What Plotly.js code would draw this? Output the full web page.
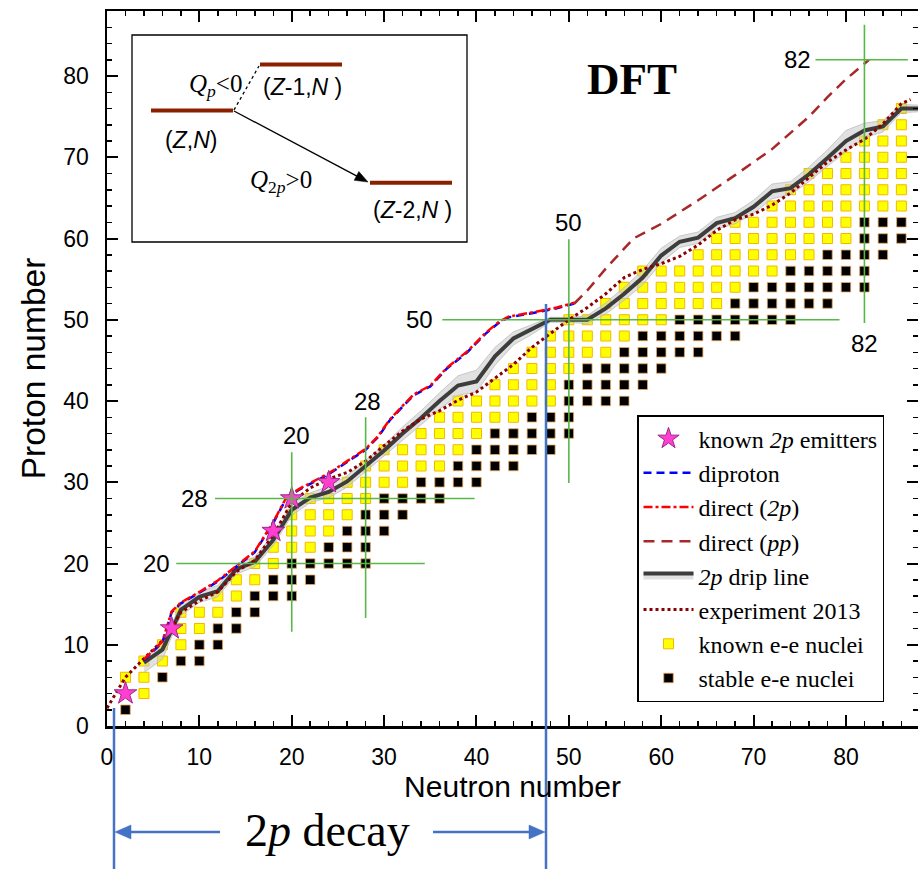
<!DOCTYPE html>
<html>
<head>
<meta charset="utf-8">
<script src="https://cdn.plot.ly/plotly-3.0.1.min.js"></script>
<style>
  html, body { margin: 0; padding: 0; background: #fff; }
  #chart { width: 918px; height: 869px; }
</style>
</head>
<body>
<div id="chart"></div>
<script>
// ---- even-even nuclei, row by row: proton number Z -> neutron numbers N ----
const rowZ = [2, 4, 6, 8, 10, 12, 14, 16, 18, 20, 22, 24, 26, 28, 30, 32, 34, 36, 38,
              40, 42, 44, 46, 48, 50, 52, 54, 56, 58, 60, 62, 64, 66, 68, 70, 72, 74, 76];
const knownN = [
  [], [4], [2, 4], [4, 6], [6, 8], [8, 10], [8, 10, 12], [12, 14], [14, 16], [16, 18],
  [18, 20, 22], [20, 22, 24], [20, 22, 24, 26], [22, 24, 26, 28], [26, 28, 30, 32],
  [28, 30, 32, 34, 36], [30, 32, 34, 36, 38], [34, 36, 38, 40], [36, 38, 40, 42, 44],
  [38, 40, 42, 44, 46, 48], [42, 44, 46, 48], [44, 46, 48, 50], [46, 48, 50, 52, 54],
  [48, 50, 52, 54, 56], [50, 52, 54, 56, 58, 60], [54, 56, 58, 60, 62, 64, 66],
  [56, 58, 60, 62, 64, 66, 68], [58, 60, 62, 64, 66, 68, 70, 72], [64, 66, 68, 70, 72, 74, 76],
  [66, 68, 70, 72, 74, 76, 78, 80], [68, 70, 72, 74, 76, 78, 80],
  [72, 74, 76, 78, 80, 82, 84, 86], [74, 76, 78, 80, 82, 84, 86], [76, 78, 80, 82, 84, 86],
  [80, 82, 84, 86], [82, 84, 86], [84, 86], [86]
];
const stableN = [
  [2], [], [6], [8, 10], [10, 12], [12, 14], [14, 16], [16, 18, 20], [18, 20, 22],
  [20, 22, 24, 26, 28], [24, 26, 28], [26, 28, 30], [28, 30, 32], [30, 32, 34, 36],
  [34, 36, 38, 40], [38, 40, 42, 44], [40, 42, 44, 46, 48], [42, 44, 46, 48, 50],
  [46, 48, 50], [50, 52, 54, 56], [50, 52, 54, 56, 58], [52, 54, 56, 58, 60],
  [56, 58, 60, 62, 64], [58, 60, 62, 64, 66, 68], [62, 64, 66, 68, 70, 72, 74],
  [68, 70, 72, 74, 76, 78], [70, 72, 74, 76, 78, 80, 82], [74, 76, 78, 80, 82],
  [78, 80, 82, 84], [82, 84, 86], [82, 84, 86], [], [], [], [], [], [], []
];

// ---- known two-proton emitters ----
const emitterN = [2, 7, 18, 20, 24];
const emitterZ = [4, 12, 24, 28, 30];

// ---- predicted boundaries ----
const diprotonN = [4, 6, 7, 8, 10, 12, 14, 16, 18, 19.5, 21, 24, 26, 28, 29.3, 30.6, 32, 33.2, 35, 36.8, 39, 41, 42.5, 43.5, 46, 48.7, 50.6];
const diprotonZ = [8.1, 10.3, 14.0, 15.1, 16.4, 17.8, 19.6, 21.4, 25.0, 28.2, 29.2, 31.0, 32.5, 34.0, 35.5, 37.6, 39.3, 40.7, 41.8, 44.0, 46.0, 48.3, 49.7, 50.3, 50.8, 51.4, 52.0];
const direct2pN = [4, 6, 7, 8, 10, 12, 14, 16, 18, 19.5, 21, 24, 26, 28, 29.3, 30.6, 32, 33.2, 35, 36.8, 39, 41, 42.5, 43.5, 46, 48.7, 50.6];
const direct2pZ = [8.2, 10.4, 14.1, 15.2, 16.5, 17.9, 19.7, 21.5, 25.1, 28.3, 29.3, 31.1, 32.6, 34.1, 35.6, 37.7, 39.4, 40.8, 41.9, 44.1, 46.1, 48.4, 49.8, 50.4, 50.9, 51.5, 52.1];
const directPPN = [50.6, 52, 54, 57, 60, 64, 68, 72, 76, 78, 80, 82.5];
const directPPZ = [52.0, 53.6, 56.3, 60.0, 61.8, 64.7, 67.8, 71.0, 75.0, 77.4, 79.6, 82.0];

const dripN = [4, 6, 7, 8, 10, 12, 14, 16, 18, 20, 22, 24, 26, 28, 30, 32, 34, 36, 38, 40, 42, 44,
               46, 48, 50, 52, 54, 56, 58, 60, 62, 64, 66, 68, 70, 72, 74, 76, 78, 80, 82, 84, 86, 88];
const dripZ = [7.8, 9.4, 11.8, 14.3, 15.9, 16.6, 19.3, 20.2, 22.9, 26.6, 28.1, 28.8, 30.1, 32.0, 33.9,
               36.0, 37.9, 40.0, 41.9, 42.4, 45.5, 47.7, 48.8, 50.0, 50.0, 50.0, 51.4, 53.2, 55.2,
               57.9, 59.6, 60.1, 61.9, 62.5, 63.9, 65.8, 66.2, 67.9, 69.9, 72.0, 73.3, 73.8, 76.0, 76.0];
const dripHiZ = [8.4, 10.5, 12.6, 14.9, 16.5, 17.3, 19.9, 20.8, 23.6, 27.3, 28.7, 29.5, 30.8, 32.7, 34.6,
                 36.8, 38.8, 41.0, 43.1, 43.8, 46.6, 48.5, 49.4, 50.3, 50.3, 50.5, 52.1, 54.0, 56.1,
                 58.8, 60.3, 60.8, 62.6, 63.2, 64.7, 66.7, 67.0, 68.8, 70.9, 73.3, 74.2, 74.5, 76.5, 76.4];
const dripLoZ = [6.6, 8.2, 11.0, 13.6, 15.2, 15.9, 18.7, 19.6, 22.2, 25.9, 27.5, 28.1, 29.4, 31.3, 33.2,
                 35.2, 37.0, 39.0, 40.7, 41.1, 44.4, 46.9, 48.2, 49.7, 49.7, 49.5, 50.7, 52.4, 54.3,
                 57.0, 58.9, 59.4, 61.2, 61.8, 63.1, 64.9, 65.4, 67.0, 68.9, 70.7, 72.4, 73.1, 75.5, 75.6];

const experimentN = [0, 2, 4, 6, 7, 8, 10, 12, 14, 16, 18, 20, 22, 24, 26, 28, 30, 32, 34, 36, 38, 40, 42,
                     44, 46, 48, 50, 52, 54, 56, 58, 60, 62, 64, 66, 68, 70, 72, 74, 76, 78, 80, 82, 84, 86, 87];
const experimentZ = [2.2, 6.0, 8.3, 10.5, 12.0, 14.0, 15.4, 16.5, 19.0, 20.4, 23.5, 27.5, 29.3, 30.4, 31.2,
                     32.6, 34.5, 36.3, 37.8, 38.8, 40.1, 41.1, 42.8, 44.5, 46.6, 48.3, 50.0, 51.5, 53.2,
                     55.2, 56.2, 56.9, 57.8, 59.2, 61.0, 62.3, 63.0, 64.1, 65.6, 67.5, 69.4, 70.9, 72.2,
                     74.1, 76.6, 77.1];

// ---- magic numbers: guide lines [value, from, to] ----
const magicZLines = [[20, 7.5, 34.4], [28, 11.7, 39.8], [50, 36.3, 79.3], [82, 76.7, 86.7]];
const magicNLines = [[20, 11.6, 33.7], [28, 13.3, 38.0], [50, 29.9, 59.9], [82, 49.6, 86.3]];

// ---- styling ----
const SANS = '"Liberation Sans", Arial, Helvetica, sans-serif';
const SERIF = '"Liberation Serif", "Times New Roman", Times, serif';
const GREEN = '#57b847';
const BLUE = '#4472c4';
const LEVEL = '#8b2000';

// page geometry, used to place the decorations around the axes
const W = 918, H = 869;
const M = { l: 107, r: 0, t: 11, b: 143 };
const PW = W - M.l - M.r, PH = H - M.t - M.b;
const px = x => (x - M.l) / PW;
const py = y => (H - M.b - y) / PH;

// flatten the square grid
function cells(lists) {
  const x = [], y = [];
  rowZ.forEach((z, i) => lists[i].forEach(n => { x.push(n); y.push(z); }));
  return { x, y };
}
const known = cells(knownN);
const stable = cells(stableN);

const traces = [
  {
    x: known.x, y: known.y, type: 'scatter', mode: 'markers',
    name: 'known e-e nuclei', legendrank: 7,
    marker: { symbol: 'square', size: 10, color: '#ffff00', line: { color: '#f2b800', width: 1 } },
    hoverinfo: 'skip'
  },
  {
    x: stable.x, y: stable.y, type: 'scatter', mode: 'markers',
    name: 'stable e-e nuclei', legendrank: 8,
    marker: { symbol: 'square', size: 9.5, color: '#000000', line: { color: '#e8a860', width: 0.8 } },
    hoverinfo: 'skip'
  },
  {
    x: dripN, y: dripHiZ, type: 'scatter', mode: 'lines',
    line: { color: '#bdbdbd', width: 0.8 }, showlegend: false, hoverinfo: 'skip'
  },
  {
    x: dripN, y: dripZ, type: 'scatter', mode: 'lines', fill: 'tonexty',
    fillcolor: 'rgba(200,200,200,0.55)',
    name: '<i>2p</i> drip line', legendrank: 5,
    line: { color: '#3d3d3d', width: 4 }, hoverinfo: 'skip'
  },
  {
    x: dripN, y: dripLoZ, type: 'scatter', mode: 'lines', fill: 'tonexty',
    fillcolor: 'rgba(200,200,200,0.55)',
    line: { color: '#bdbdbd', width: 0.8 }, showlegend: false, hoverinfo: 'skip'
  },
  {
    x: experimentN, y: experimentZ, type: 'scatter', mode: 'lines',
    name: 'experiment 2013', legendrank: 6,
    line: { color: '#8b0000', width: 3, dash: 'dot' }, hoverinfo: 'skip'
  },
  {
    x: directPPN, y: directPPZ, type: 'scatter', mode: 'lines',
    name: 'direct (<i>pp</i>)', legendrank: 4,
    line: { color: '#a8282a', width: 2.5, dash: '11px,7px' }, hoverinfo: 'skip'
  },
  {
    x: diprotonN, y: diprotonZ, type: 'scatter', mode: 'lines',
    name: 'diproton', legendrank: 2,
    line: { color: '#0000ff', width: 2.5, dash: '8px,5px' }, hoverinfo: 'skip'
  },
  {
    x: direct2pN, y: direct2pZ, type: 'scatter', mode: 'lines',
    name: 'direct (<i>2p</i>)', legendrank: 3,
    line: { color: '#ff0000', width: 2.5, dash: 'dashdot' }, hoverinfo: 'skip'
  },
  {
    x: emitterN, y: emitterZ, type: 'scatter', mode: 'markers',
    name: 'known <i>2p</i> emitters', legendrank: 1,
    marker: { symbol: 'star', size: 17, color: '#ff3fd0', line: { color: '#9a2a8a', width: 1 } },
    hoverinfo: 'skip'
  }
];

const shapes = [];
magicZLines.forEach(([z, n0, n1]) => shapes.push({
  type: 'line', xref: 'x', yref: 'y', x0: n0, x1: n1, y0: z, y1: z,
  line: { color: GREEN, width: 1.6 }, layer: 'above'
}));
magicNLines.forEach(([n, z0, z1]) => shapes.push({
  type: 'line', xref: 'x', yref: 'y', x0: n, x1: n, y0: z0, y1: z1,
  line: { color: GREEN, width: 1.6 }, layer: 'above'
}));

// straight arrow in page pixels: shaft plus a filled triangular head
function arrow(x0, y0, x1, y1, color, width, headLen, headHalf) {
  const len = Math.hypot(x1 - x0, y1 - y0);
  const ux = (x1 - x0) / len, uy = (y1 - y0) / len;
  const bx = x1 - ux * headLen, by = y1 - uy * headLen;
  const nx = -uy * headHalf, ny = ux * headHalf;
  return [
    { type: 'line', xref: 'paper', yref: 'paper', x0: px(x0), y0: py(y0), x1: px(bx + ux), y1: py(by + uy),
      line: { color, width } },
    { type: 'path', xref: 'paper', yref: 'paper',
      path: `M${px(x1)},${py(y1)} L${px(bx + nx)},${py(by + ny)} L${px(bx - nx)},${py(by - ny)} Z`,
      fillcolor: color, line: { color, width: 0.5 } }
  ];
}

// inset: decay scheme
shapes.push(
  { type: 'rect', xref: 'paper', yref: 'paper', x0: px(132), x1: px(467), y0: py(35), y1: py(242),
    line: { color: '#000', width: 1.3 }, fillcolor: 'rgba(0,0,0,0)' },
  { type: 'line', xref: 'paper', yref: 'paper', x0: px(151), x1: px(233), y0: py(110.5), y1: py(110.5),
    line: { color: LEVEL, width: 4 } },
  { type: 'line', xref: 'paper', yref: 'paper', x0: px(260), x1: px(342), y0: py(64.5), y1: py(64.5),
    line: { color: LEVEL, width: 4 } },
  { type: 'line', xref: 'paper', yref: 'paper', x0: px(370), x1: px(452), y0: py(182.7), y1: py(182.7),
    line: { color: LEVEL, width: 4 } },
  { type: 'line', xref: 'paper', yref: 'paper', x0: px(234), x1: px(259), y0: py(110), y1: py(66),
    line: { color: '#000', width: 1.3, dash: 'dot' } },
  ...arrow(234, 111, 368, 182, '#000', 1.3, 13, 5)
);

// 2p-decay span below the axis
shapes.push(
  { type: 'line', xref: 'paper', yref: 'paper', x0: px(114), x1: px(114), y0: py(708), y1: py(869),
    line: { color: BLUE, width: 2.5 } },
  { type: 'line', xref: 'paper', yref: 'paper', x0: px(546), x1: px(546), y0: py(304), y1: py(869),
    line: { color: BLUE, width: 2.5 } },
  ...arrow(220, 832, 115, 832, BLUE, 2.5, 16, 7),
  ...arrow(433, 832, 545, 832, BLUE, 2.5, 16, 7)
);

const sansLabel = (text, x, y, opts) => Object.assign({
  text, x, y, xref: 'x', yref: 'y', showarrow: false, xanchor: 'center', yanchor: 'middle',
  font: { family: SANS, size: 24, color: '#000' }
}, opts || {});

const paperText = (text, x, y, family, size) => ({
  text, xref: 'paper', yref: 'paper', x: px(x), y: py(y), showarrow: false,
  xanchor: 'center', yanchor: 'middle', font: { family, size, color: '#000' }
});

const annotations = [
  sansLabel('20', 7.0, 20, { xanchor: 'right' }),
  sansLabel('28', 11.2, 28, { xanchor: 'right' }),
  sansLabel('50', 35.5, 50, { xanchor: 'right' }),
  sansLabel('82', 76.4, 82, { xanchor: 'right' }),
  sansLabel('20', 20.5, 35.8),
  sansLabel('28', 28.2, 40.0),
  sansLabel('50', 50.0, 62.0),
  sansLabel('82', 82.0, 47.1),

  paperText('(<i>Z</i>,<i>N</i>)', 191, 140, SANS, 23),
  paperText('(<i>Z</i>-1,<i>N</i> )', 302, 87, SANS, 23),
  paperText('(<i>Z</i>-2,<i>N</i> )', 412, 210, SANS, 23),
  paperText('<i>Q</i><sub><i>p</i></sub>&lt;0', 215, 85, SERIF, 25),
  paperText('<i>Q</i><sub>2<i>p</i></sub>&gt;0', 281, 181, SERIF, 25),
  paperText('<b>DFT</b>', 632, 79, SERIF, 45),
  paperText('2<i>p</i> decay', 327, 830, SERIF, 46)
];

const axisCommon = {
  showline: true, linecolor: '#000', linewidth: 2.5, mirror: 'allticks',
  ticks: 'inside', ticklen: 11, tickwidth: 2, tickcolor: '#000',
  dtick: 10, tick0: 0, showgrid: false, zeroline: false,
  tickfont: { family: SANS, size: 23, color: '#000' },
  minor: { dtick: 2, ticks: 'inside', ticklen: 5, tickwidth: 1.5, tickcolor: '#000', showgrid: false }
};

const layout = {
  width: W, height: H,
  margin: M,
  paper_bgcolor: '#fff', plot_bgcolor: '#fff',
  showlegend: true,
  xaxis: Object.assign({}, axisCommon, {
    range: [0, 87.8], ticklabelstandoff: 9,
    title: { text: 'Neutron number', font: { family: SANS, size: 30, color: '#000' }, standoff: 4 }
  }),
  yaxis: Object.assign({}, axisCommon, {
    range: [0, 88], ticklabelstandoff: 11,
    title: { text: 'Proton number', font: { family: SANS, size: 33.5, color: '#000' }, standoff: 8 }
  }),
  legend: {
    x: px(637), y: py(415), xanchor: 'left', yanchor: 'top',
    bgcolor: '#fff', bordercolor: '#000', borderwidth: 1.5,
    font: { family: SERIF, size: 24, color: '#000' },
    traceorder: 'normal', itemwidth: 50
  },
  shapes, annotations
};

Plotly.newPlot('chart', traces, layout, { displayModeBar: false, staticPlot: true });
</script>
</body>
</html>
